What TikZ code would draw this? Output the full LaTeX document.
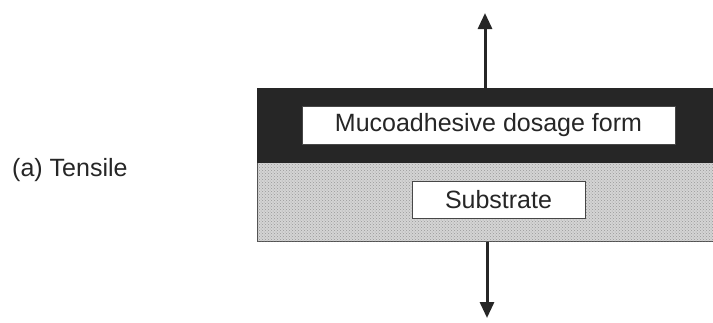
\documentclass[tikz,border=0pt]{standalone}
\usepackage{fontspec}
\setmainfont{Liberation Sans}
\usetikzlibrary{arrows.meta,patterns}
\definecolor{ink}{HTML}{262626}
\definecolor{subfill}{HTML}{D4D4D4}
\tikzset{
  layer/.style={anchor=north west, inner sep=0pt, minimum width=456pt},
  toplayer/.style={layer, fill=ink, draw=ink, minimum height=74pt},
  sublayer/.style={layer, fill=subfill, draw=ink!80, line width=0.8pt, minimum height=79pt,
    postaction={pattern=crosshatch dots, pattern color=gray!80}},
  labelbox/.style={fill=white, draw=ink!85, line width=0.9pt, inner sep=0pt, text=ink,
    font=\fontsize{25}{28}\selectfont},
  plain/.style={inner sep=0pt, text=ink, font=\fontsize{25}{28}\selectfont},
  force/.style={draw=ink, line width=3pt, -{Triangle[width=14pt,length=16pt]}}
}
\begin{document}
\begin{tikzpicture}[x=1pt,y=-1pt]
\useasboundingbox (0,0) rectangle (713,322);
\node[sublayer] (sub) at (257,162) {};
\node[toplayer] (top) at (257,88) {};
\node[labelbox, minimum width=373pt, minimum height=38pt] (muco) at (488.5,125) {Mucoadhesive dosage form};
\node[labelbox, minimum width=173pt, minimum height=37pt] (substrate) at (498.5,199.5) {Substrate};
\node[plain, anchor=base west] (label) at (12,176) {(a) Tensile};
\coordinate (upTip) at (485,13);
\coordinate (downTip) at (487,318);
\draw[force] (top.north -| upTip) -- (upTip);
\draw[force] (sub.south -| downTip) -- (downTip);
\end{tikzpicture}
\end{document}
